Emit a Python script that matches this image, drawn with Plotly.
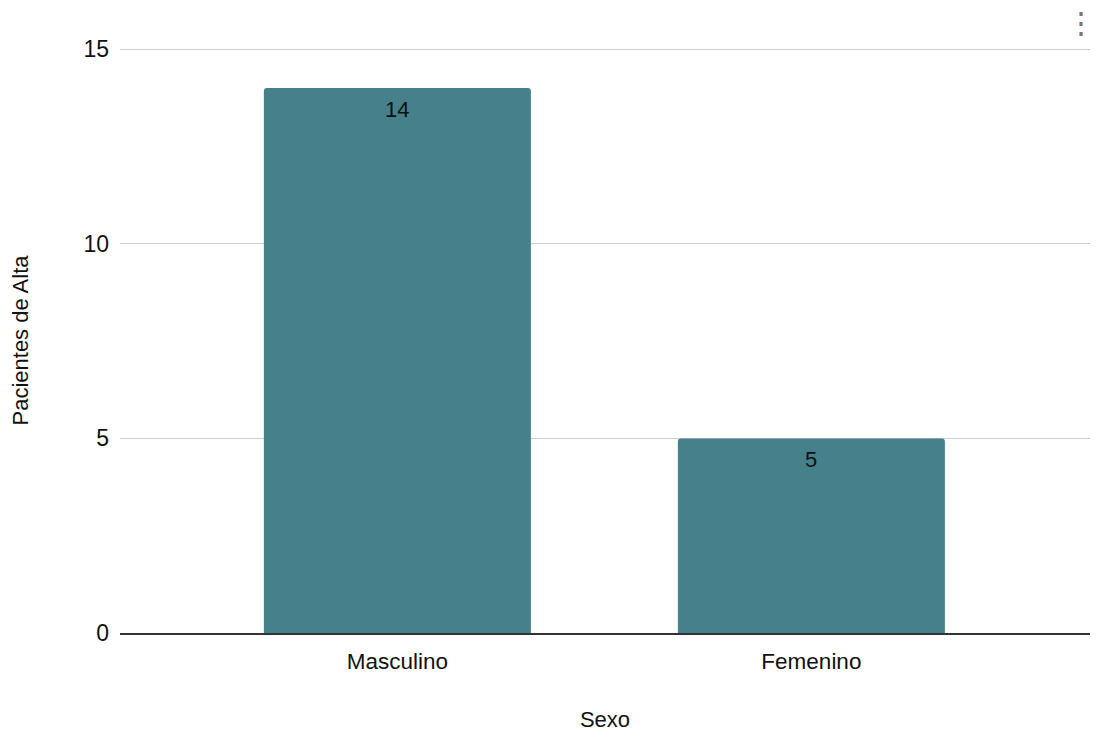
import plotly.graph_objects as go

categories = ["Masculino", "Femenino"]
values = [14, 5]
y_ticks = [0, 5, 10, 15]

fig = go.Figure()
fig.add_trace(go.Bar(
    x=categories, y=values,
    marker=dict(color="#46808a", line=dict(width=0)),
    width=0.645,
    hoverinfo="x+y",
))

for c, v in zip(categories, values):
    fig.add_annotation(
        x=c, y=v, xref="x", yref="y", text=str(v), showarrow=False,
        yanchor="top", yshift=-7,
        font=dict(family="Liberation Sans, Arial", size=22, color="#111111"),
    )

fig.update_layout(
    width=1098, height=732,
    margin=dict(l=120, r=8, t=48, b=99, autoexpand=False),
    paper_bgcolor="white", plot_bgcolor="white",
    font=dict(family="Liberation Sans, Arial", size=22, color="#111111"),
    barcornerradius=3,
    showlegend=False,
    xaxis=dict(
        range=[-0.67, 1.673],
        showgrid=False, automargin=False,
        showline=True, linecolor="#333333", linewidth=2,
        ticks="", ticklabelstandoff=7,
        title=dict(text="Sexo", standoff=40, font=dict(size=22)),
        tickfont=dict(size=22.5),
    ),
    yaxis=dict(
        range=[0, 15.03],
        tickvals=y_ticks, automargin=False,
        showgrid=True, gridcolor="#cccccc", gridwidth=1.3,
        zeroline=False,
        ticks="", ticklabelstandoff=10,
        title=dict(text="Pacientes de Alta", standoff=48, font=dict(size=22)),
        tickfont=dict(size=23),
    ),
)

fig.add_annotation(
    text="⋮", xref="paper", yref="paper", x=1.0, y=1.0,
    xanchor="right", yanchor="top", xshift=8, yshift=44,
    showarrow=False, font=dict(size=30, color="#777777"),
)

fig.write_html(
    "out.html",
    config={"responsive": False, "displayModeBar": False},
    post_script="document.body.style.margin='0';document.body.style.overflow='hidden';",
)
